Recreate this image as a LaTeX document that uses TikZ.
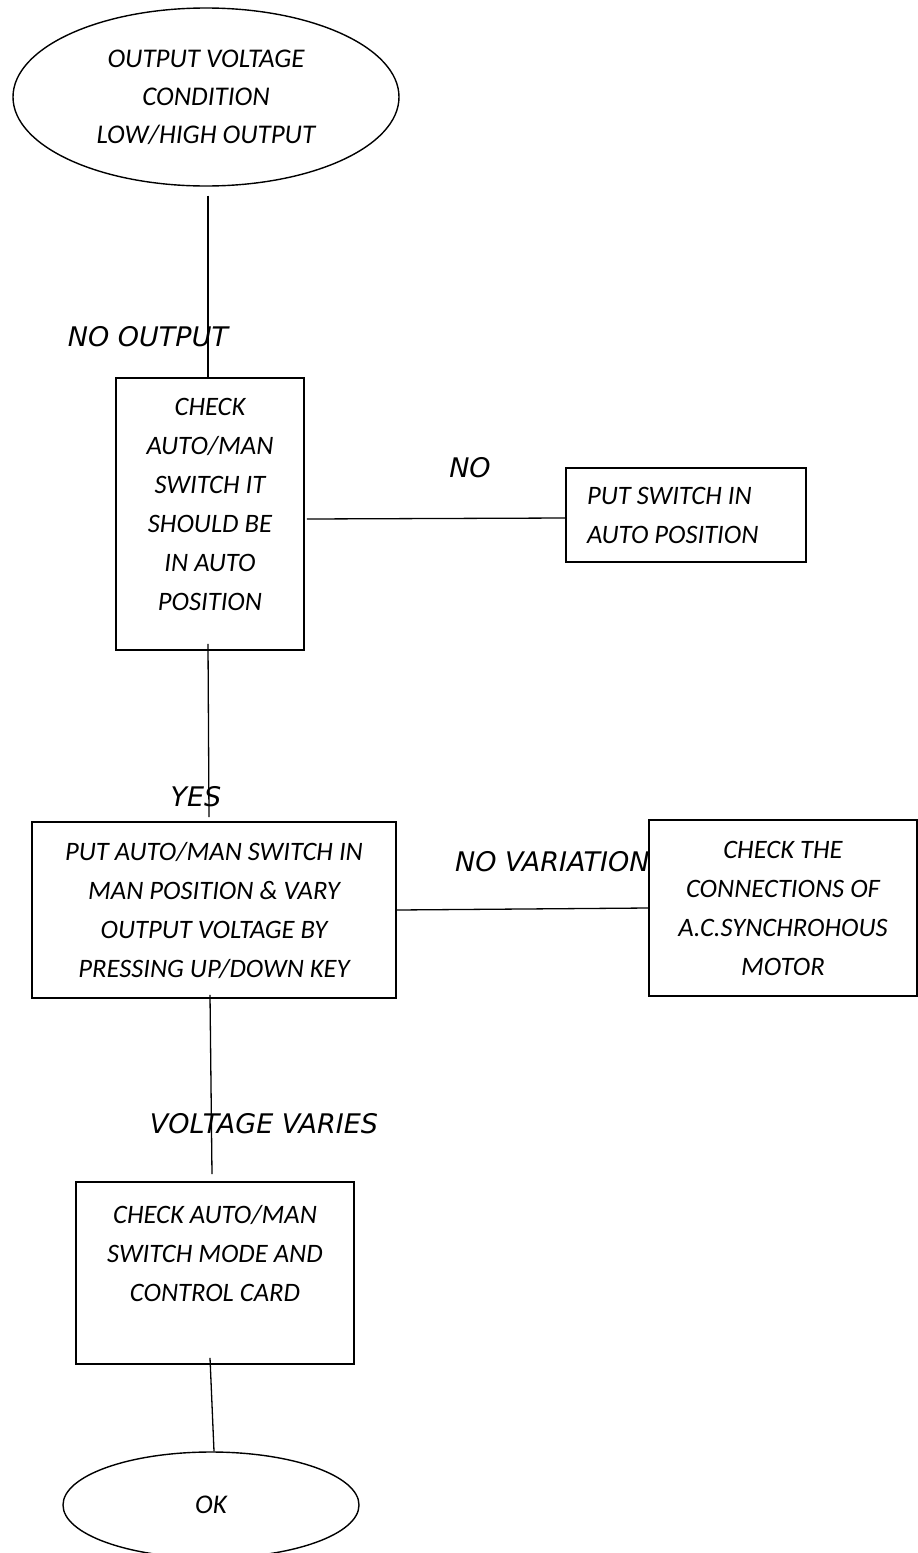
\documentclass[tikz,border=0pt]{standalone}
\usepackage{fontspec}
\setmainfont{Carlito}
\newfontfamily\labelfont{DejaVu Sans}
\usepackage{tikz}
\usetikzlibrary{shapes,positioning,calc}
\tikzstyle{block} = [rectangle, draw, fill=white, align=center, line width=1.6pt,
inner sep=0pt, font=\itshape\fontsize{26.6}{39}\selectfont]
\tikzstyle{terminal} = [ellipse, draw, fill=white, align=center, line width=1.4pt,
inner sep=0pt, font=\itshape\fontsize{27}{38}\selectfont]
\tikzstyle{tag} = [font=\labelfont\itshape\fontsize{27}{32}\selectfont, inner sep=0pt]
\tikzstyle{line} = [draw, line width=1.3pt]

\begin{document}
\begin{tikzpicture}[x=1pt, y=-1pt]
    \useasboundingbox (0,0) rectangle (918,1553);

    % Labels (drawn first, the boxes cover them)
    \node [tag] (lblnooutput) at (148,337) {NO OUTPUT};
    \node [tag] (lblno) at (470,468) {NO};
    \node [tag] (lblyes) at (196,797) {YES};
    \node [tag, anchor=west] (lblnovar) at (455,862) {NO VARIATION};
    \node [tag] (lblvaries) at (264,1124) {VOLTAGE VARIES};

    % Nodes
    \node [terminal, minimum width=386, minimum height=178] (start) at (206,97)
        {OUTPUT VOLTAGE\\CONDITION\\LOW/HIGH OUTPUT};
    \node [block, minimum width=188, minimum height=272] (check) at (210,514)
        {CHECK\\AUTO/MAN\\SWITCH IT\\SHOULD BE\\IN AUTO\\POSITION\\[-20pt]\mbox{}};
    \node [block, text width=198, align=flush left, inner xsep=21, minimum height=94] (putauto) at (686,515)
        {PUT SWITCH IN\\AUTO POSITION};
    \node [block, minimum width=364, minimum height=176] (manual) at (214,910)
        {PUT AUTO/MAN SWITCH IN\\MAN POSITION \& VARY\\OUTPUT VOLTAGE BY\\PRESSING UP/DOWN KEY};
    \node [block, minimum width=268, minimum height=176] (motor) at (783,908)
        {CHECK THE\\CONNECTIONS OF\\A.C.SYNCHROHOUS\\MOTOR};
    \node [block, minimum width=278, minimum height=182] (card) at (215,1273)
        {CHECK AUTO/MAN\\SWITCH MODE AND\\CONTROL CARD\\ \mbox{}};
    \node [terminal, minimum width=296, minimum height=106] (ok) at (211,1505) {OK};

    % lines
    \path [line] ([xshift=2,yshift=-9]start.south) -- ([xshift=-2]check.north);
    \path [line] ([xshift=-2,yshift=7]check.south) -- ([xshift=-5,yshift=4]manual.north);
    \path [line] ([xshift=2,yshift=-5]check.east) -- ([yshift=-3]putauto.west);
    \path [line] (manual.east) -- (motor.west);
    \path [line] ([xshift=-4,yshift=4]manual.south) -- ([xshift=-3,yshift=7]card.north);
    \path [line] ([xshift=-5,yshift=7]card.south) -- ([xshift=3]ok.north);

\end{tikzpicture}
\end{document}
